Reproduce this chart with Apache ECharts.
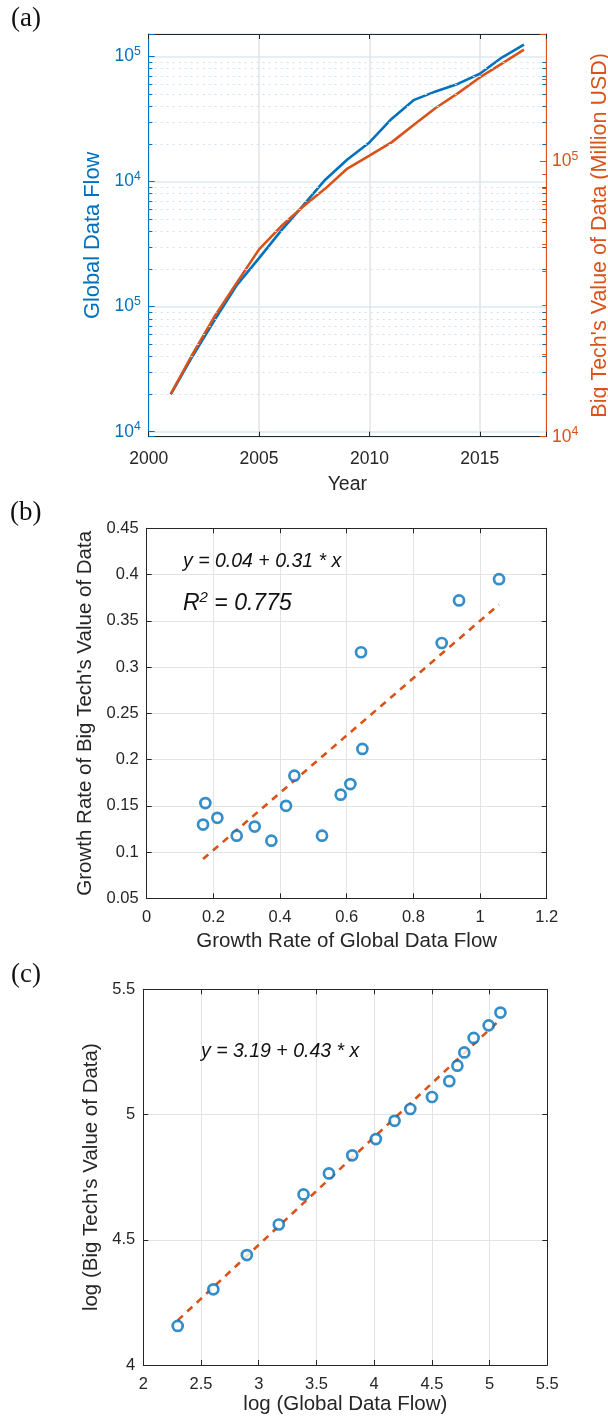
<!DOCTYPE html>
<html><head><meta charset="utf-8">
<script src="https://cdn.jsdelivr.net/npm/echarts@6/dist/echarts.min.js"></script>
<style>html,body{margin:0;padding:0;background:#fff}#c{width:608px;height:1416px}</style>
</head><body><div id="c"></div>
<script>
// ---------- DATA ----------
const years = [2001,2002,2003,2004,2005,2006,2007,2008,2009,2010,2011,2012,2013,2014,2015,2016,2017];
const globalDataFlow = [199,405,789,1493,2443,4055,6457,10350,15030,20560,31700,44770,52600,60390,72780,98170,124200];
const bigTechValue = [14320,20040,27480,36390,47970,58210,68710,79800,94410,105200,117500,135800,156700,177000,202300,227000,255300];
// Panel (b): growth rates
const growthFlow = [1.057,0.937,0.885,0.643,0.647,0.443,0.611,0.582,0.176,0.418,0.212,0.169,0.324,0.270,0.526,0.374];
const growthValue = [0.395,0.372,0.326,0.316,0.2115,0.1826,0.1735,0.162,0.153,0.150,0.137,0.1297,0.1275,0.1177,0.1177,0.1123];
const fitBx = [0.169,1.057];
const fitBy = [0.0924,0.3677];
// Panel (c): logs
const logFlow = [2.298,2.607,2.897,3.174,3.388,3.608,3.810,4.015,4.177,4.313,4.501,4.651,4.721,4.781,4.862,4.992,5.094];
const logValue = [4.156,4.302,4.439,4.561,4.681,4.765,4.837,4.902,4.975,5.022,5.070,5.133,5.195,5.248,5.306,5.356,5.407];
const fitCx = [2.298,5.094];
const fitCy = [4.178,5.380];
// Left-axis tick labels of panel (a) (exponents shown, bottom to top)
const leftExpLabels = {2:'4',3:'5',4:'4',5:'5'};
const rightExpLabels = {4:'4',5:'5'};
const eqB = 'y = 0.04 + 0.31 * x';
const r2B = '0.775';
const eqC = 'y = 3.19 + 0.43 * x';

// ---------- STYLE ----------
const BLUE = '#0072BD', ORANGE = '#D95319', DARK = '#262626', GRID = '#e3e3e3';
const FONT = '"Liberation Sans", Arial, Helvetica, sans-serif';
const SERIF = '"Liberation Serif", "Times New Roman", serif';

const zip = (a,b) => a.map((v,i)=>[v,b[i]]);

function expOf(v){ const e = Math.log10(v); const r = Math.round(e); return Math.abs(e-r) < 1e-6 ? r : null; }
function logFormatter(map){
  return function(v){ const e = expOf(v); if (e===null || map[e]===undefined) return ''; return '{b|10}{s|' + map[e] + '}'; };
}
function richFor(color, size){
  return { b:{color:color,fontSize:size,fontFamily:FONT}, s:{color:color,fontSize:size*0.7,fontFamily:FONT,padding:[0,0,size*0.55,0]} };
}

function boxX(gi, min, max, interval, pos){
  return { gridIndex: gi, type:'value', position: pos, min:min, max:max, interval:interval,
    axisLine:{show:true,onZero:false,lineStyle:{color:DARK,width:1}},
    axisTick:{show:true,inside:true,length:5,lineStyle:{color:DARK}},
    axisLabel:{show:false}, splitLine:{show:false} };
}
function boxY(gi, min, max, interval, pos){
  return { gridIndex: gi, type:'value', position: pos, min:min, max:max, interval:interval,
    axisLine:{show:true,onZero:false,lineStyle:{color:DARK,width:1}},
    axisTick:{show:true,inside:true,length:5,lineStyle:{color:DARK}},
    axisLabel:{show:false}, splitLine:{show:false} };
}

function minorsBetween(lo, hi){
  const out = [];
  for (let e=0; e<=6; e++) for (let k=2; k<=9; k++) { const v = k*Math.pow(10,e); if (v > lo && v < hi) out.push(v); }
  return out;
}
const LMIN = Math.pow(10,1.96), LMAX = Math.pow(10,5.18), RMIN = 1e4, RMAX = Math.pow(10,5.464);
const leftMinors = minorsBetween(LMIN, LMAX);
const rightMinors = minorsBetween(RMIN, RMAX);
const X0 = 2000, X1 = 2018, TK = 0.17;

const chart = echarts.init(document.getElementById('c'), null, {renderer:'canvas'});
const option = {
  animation:false,
  backgroundColor:'#fff',
  textStyle:{fontFamily:FONT},
  grid:[
    {left:148.7, top:34, width:397.3, height:402.7, containLabel:false, outerBoundsMode:'none'},
    {left:146.7, top:528.3, width:400, height:370, containLabel:false, outerBoundsMode:'none'},
    {left:143.3, top:989.3, width:404, height:375.7, containLabel:false, outerBoundsMode:'none'}
  ],
  xAxis:[
    { gridIndex:0, type:'value', position:'bottom', min:X0, max:X1, interval:5,
      name:'Year', nameLocation:'middle', nameGap:38, nameTextStyle:{color:DARK,fontSize:19.5,fontFamily:FONT},
      axisLine:{show:true,onZero:false,lineStyle:{color:DARK,width:1}},
      axisTick:{show:true,inside:true,length:5,lineStyle:{color:DARK}},
      axisLabel:{color:DARK,fontSize:17.5,margin:13,fontFamily:FONT,formatter:v=> (v%5===0? String(v):'')},
      splitLine:{show:true,lineStyle:{color:GRID,width:1.5}} },
    boxX(0,X0,X1,5,'top'),
    { gridIndex:1, type:'value', position:'bottom', min:0, max:1.2, interval:0.2,
      name:'Growth Rate of Global Data Flow', nameLocation:'middle', nameGap:33, nameTextStyle:{color:DARK,fontSize:20.5,fontFamily:FONT},
      axisLine:{show:true,onZero:false,lineStyle:{color:DARK,width:1}},
      axisTick:{show:true,inside:true,length:5,lineStyle:{color:DARK}},
      axisLabel:{color:DARK,fontSize:16.5,margin:11,fontFamily:FONT},
      splitLine:{show:true,lineStyle:{color:GRID,width:1}} },
    boxX(1,0,1.2,0.2,'top'),
    { gridIndex:2, type:'value', position:'bottom', min:2, max:5.5, interval:0.5,
      name:'log (Global Data Flow)', nameLocation:'middle', nameGap:22, nameTextStyle:{color:DARK,fontSize:20.5,fontFamily:FONT},
      axisLine:{show:true,onZero:false,lineStyle:{color:DARK,width:1}},
      axisTick:{show:true,inside:true,length:5,lineStyle:{color:DARK}},
      axisLabel:{color:DARK,fontSize:16.5,margin:11,fontFamily:FONT},
      splitLine:{show:true,lineStyle:{color:GRID,width:1}} },
    boxX(2,2,5.5,0.5,'top')
  ],
  yAxis:[
    { gridIndex:0, type:'log', logBase:10, position:'left', min:LMIN, max:LMAX,
      name:'Global Data Flow', nameLocation:'middle', nameGap:44, nameTextStyle:{color:BLUE,fontSize:21.8,fontFamily:FONT},
      axisLine:{show:true,onZero:false,lineStyle:{color:BLUE,width:1}},
      axisTick:{show:true,inside:true,length:6,lineStyle:{color:BLUE}},
      axisLabel:{margin:8,formatter:logFormatter(leftExpLabels),rich:richFor(BLUE,17.5)},
      splitLine:{show:true,lineStyle:{color:'#e4eef7',width:2}} },
    { gridIndex:0, type:'log', logBase:10, position:'right', min:RMIN, max:RMAX,
      name:"Big Tech's Value of Data (Million USD)", nameLocation:'middle', nameGap:40, nameRotate:90,
      nameTextStyle:{color:ORANGE,fontSize:21.5,fontFamily:FONT},
      axisLine:{show:true,onZero:false,lineStyle:{color:ORANGE,width:1}},
      axisTick:{show:true,inside:true,length:6,lineStyle:{color:ORANGE}},
      axisLabel:{margin:6,formatter:logFormatter(rightExpLabels),rich:richFor(ORANGE,17.5)},
      splitLine:{show:false} },
    { gridIndex:1, type:'value', position:'left', min:0.05, max:0.45, interval:0.05,
      name:"Growth Rate of Big Tech's Value of Data", nameLocation:'middle', nameGap:48, nameTextStyle:{color:DARK,fontSize:20.5,fontFamily:FONT},
      axisLine:{show:true,onZero:false,lineStyle:{color:DARK,width:1}},
      axisTick:{show:true,inside:true,length:5,lineStyle:{color:DARK}},
      axisLabel:{color:DARK,fontSize:16.5,margin:8,fontFamily:FONT},
      splitLine:{show:true,lineStyle:{color:GRID,width:1}} },
    boxY(1,0.05,0.45,0.05,'right'),
    { gridIndex:2, type:'value', position:'left', min:4, max:5.5, interval:0.5,
      name:"log (Big Tech's Value of Data)", nameLocation:'middle', nameGap:24, nameTextStyle:{color:DARK,fontSize:20.5,fontFamily:FONT},
      axisLine:{show:true,onZero:false,lineStyle:{color:DARK,width:1}},
      axisTick:{show:true,inside:true,length:5,lineStyle:{color:DARK}},
      axisLabel:{color:DARK,fontSize:16.5,margin:8,fontFamily:FONT},
      splitLine:{show:true,lineStyle:{color:GRID,width:1}} },
    boxY(2,4,5.5,0.5,'right')
  ],
  series:[
    // minor dotted grid + minor ticks of the left (blue) log axis
    { type:'line', xAxisIndex:0, yAxisIndex:0, data:[], silent:true, z:1,
      markLine:{ silent:true, symbol:['none','none'], label:{show:false},
        lineStyle:{color:'#cfe1f0', type:[2,4], width:1},
        data: leftMinors.map(v=>({yAxis:v})) } },
    { type:'line', xAxisIndex:0, yAxisIndex:0, data:[], silent:true, z:5,
      markLine:{ silent:true, symbol:['none','none'], label:{show:false},
        lineStyle:{color:BLUE, type:'solid', width:1},
        data: leftMinors.map(v=>[{coord:[X0,v]},{coord:[X0+TK,v]}]).concat(leftMinors.map(v=>[{coord:[X1-TK,v]},{coord:[X1,v]}])) } },
    // minor ticks of the right (orange) log axis
    { type:'line', xAxisIndex:0, yAxisIndex:1, data:[], silent:true, z:5,
      markLine:{ silent:true, symbol:['none','none'], label:{show:false},
        lineStyle:{color:ORANGE, type:'solid', width:1},
        data: rightMinors.map(v=>[{coord:[X1-TK,v]},{coord:[X1,v]}]) } },
    { type:'line', xAxisIndex:0, yAxisIndex:0, data:zip(years,globalDataFlow), symbol:'none', z:3,
      lineStyle:{color:BLUE,width:2.6}, itemStyle:{color:BLUE} },
    { type:'line', xAxisIndex:0, yAxisIndex:1, data:zip(years,bigTechValue), symbol:'none', z:4,
      lineStyle:{color:ORANGE,width:2.6}, itemStyle:{color:ORANGE} },
    { type:'line', xAxisIndex:2, yAxisIndex:2, data:zip(fitBx,fitBy), symbol:'none', z:3,
      lineStyle:{color:ORANGE,width:2.6,type:[7,6]} },
    { type:'scatter', xAxisIndex:2, yAxisIndex:2, data:zip(growthFlow,growthValue), symbol:'circle', symbolSize:10, z:4,
      itemStyle:{color:'#fff',borderColor:BLUE,borderWidth:2.7} },
    { type:'line', xAxisIndex:4, yAxisIndex:4, data:zip(fitCx,fitCy), symbol:'none', z:3,
      lineStyle:{color:ORANGE,width:2.6,type:[7,6]} },
    { type:'scatter', xAxisIndex:4, yAxisIndex:4, data:zip(logFlow,logValue), symbol:'circle', symbolSize:10, z:4,
      itemStyle:{color:'#fff',borderColor:BLUE,borderWidth:2.7} }
  ],
  graphic:[
    {type:'text', z:100, left:11, top:5, style:{text:'(a)', font:'27px '+SERIF, fill:'#111'}},
    {type:'text', z:100, left:10, top:499, style:{text:'(b)', font:'27px '+SERIF, fill:'#111'}},
    {type:'text', z:100, left:11, top:961, style:{text:'(c)', font:'27px '+SERIF, fill:'#111'}},
    {type:'text', z:100, left:183, top:552, style:{text:eqB, font:'italic 19.5px '+FONT, fill:'#111'}},
    {type:'text', z:100, left:183, top:590, style:{text:'{r|R}{s|2}{r| = '+r2B+'}', font:'italic 23px '+FONT, fill:'#111',
      rich:{r:{font:'italic 23px '+FONT, fill:'#111'}, s:{font:'italic 15px '+FONT, fill:'#111', padding:[0,0,12,0]}}}},
    {type:'text', z:100, left:201, top:1042, style:{text:eqC, font:'italic 19.5px '+FONT, fill:'#111'}}
  ]
};
chart.setOption(option);
</script></body></html>
